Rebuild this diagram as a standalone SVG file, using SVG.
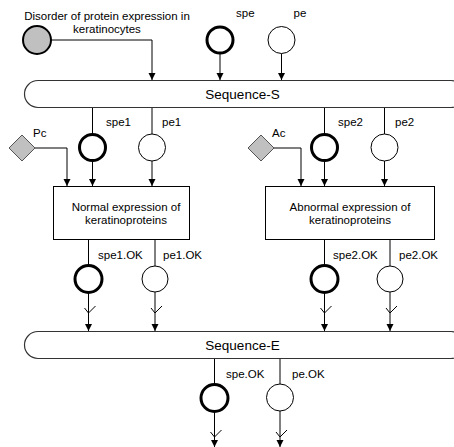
<svg xmlns="http://www.w3.org/2000/svg" width="454" height="447" viewBox="0 0 454 447">
<style>
text{font-family:"Liberation Sans",Arial,sans-serif;font-size:11.5px;fill:#000}
.seq{font-size:13.5px}
.c{text-anchor:middle}
.thin{fill:#fff;stroke:#000;stroke-width:1}
.thick{fill:#fff;stroke:#000;stroke-width:3}
.grey{fill:#c0c0c0;stroke:#000;stroke-width:2}
.dia{fill:#c0c0c0;stroke:#555;stroke-width:1}
.box{fill:#fff;stroke:#000;stroke-width:1}
.bar{fill:#fff;stroke:#333;stroke-width:1.2}
.ln{fill:none;stroke:#000;stroke-width:1}
.arr{marker-end:url(#ah)}
</style>
<defs>
<marker id="ah" markerUnits="userSpaceOnUse" markerWidth="8" markerHeight="8" viewBox="0 0 8 8" refX="7" refY="4" orient="auto">
<path d="M0,0.5 L7,4 L0,7.5 Z" fill="#000"/>
</marker>
<path id="chk" d="M-4,-5 L0,0 L7,-7" fill="none" stroke="#000" stroke-width="1"/>
</defs>

<g id="connectors">
<path class="ln arr" d="M51,40 H152 V80"/>
<path class="ln arr" d="M220,53 V80"/>
<path class="ln arr" d="M281.5,53.5 V80"/>
<path class="ln" d="M92.5,107.5 V134.5"/>
<path class="ln arr" d="M92.5,160.5 V186"/>
<path class="ln" d="M152,107.5 V134"/>
<path class="ln arr" d="M152,161 V186"/>
<path class="ln arr" d="M35,148 H67 V186"/>
<path class="ln" d="M324.5,107.5 V134.5"/>
<path class="ln arr" d="M324.5,160.5 V186"/>
<path class="ln" d="M384.5,107.5 V134"/>
<path class="ln arr" d="M384.5,161 V186"/>
<path class="ln arr" d="M274,148 H301 V186"/>
<path class="ln" d="M88.5,239.5 V265.5"/>
<path class="ln arr" d="M88.5,292.5 V331"/>
<path class="ln" d="M155,239.5 V266"/>
<path class="ln arr" d="M155,292 V331"/>
<path class="ln" d="M324.5,239.5 V265.5"/>
<path class="ln arr" d="M324.5,292.5 V331"/>
<path class="ln" d="M390,239.5 V266"/>
<path class="ln arr" d="M390,292 V331"/>
<path class="ln" d="M214.5,358.5 V384"/>
<path class="ln arr" d="M214.5,412 V447"/>
<path class="ln" d="M280,358.5 V384"/>
<path class="ln arr" d="M280,411 V447"/>
<use href="#chk" x="88.5" y="313"/>
<use href="#chk" x="155" y="313"/>
<use href="#chk" x="324.5" y="313"/>
<use href="#chk" x="390" y="313"/>
<use href="#chk" x="214.5" y="437"/>
<use href="#chk" x="280" y="437"/>
</g>

<g id="disorder">
<circle class="grey" cx="37" cy="40" r="14"/>
<text class="c" x="107" y="19.5">Disorder of protein expression in</text>
<text class="c" x="107" y="33">keratinocytes</text>
</g>
<g id="spe">
<circle class="thick" cx="220" cy="40" r="13"/>
<text x="236" y="17">spe</text>
</g>
<g id="pe">
<circle class="thin" cx="281.5" cy="40" r="13.5"/>
<text x="293.5" y="17">pe</text>
</g>

<g id="sequence-s">
<rect class="bar" x="24.5" y="80.5" width="440" height="27" rx="13.5"/>
<text class="seq c" x="242.5" y="98.5">Sequence-S</text>
</g>

<g id="spe1">
<circle class="thick" cx="92.5" cy="147.5" r="13"/>
<text x="106" y="126">spe1</text>
</g>
<g id="pe1">
<circle class="thin" cx="152" cy="147.5" r="13.5"/>
<text x="162" y="126">pe1</text>
</g>
<g id="pc">
<polygon class="dia" points="22,135 35,148 22,161 9,148"/>
<text x="33" y="137">Pc</text>
</g>
<g id="normal">
<rect class="box" x="53.5" y="186.5" width="136" height="53"/>
<text class="c" x="126" y="210.5">Normal expression of</text>
<text class="c" x="126" y="224">keratinoproteins</text>
</g>

<g id="spe2">
<circle class="thick" cx="324.5" cy="147.5" r="13"/>
<text x="338" y="126">spe2</text>
</g>
<g id="pe2">
<circle class="thin" cx="384.5" cy="147.5" r="13.5"/>
<text x="395" y="126">pe2</text>
</g>
<g id="ac">
<polygon class="dia" points="261,135 274,148 261,161 248,148"/>
<text x="272" y="137">Ac</text>
</g>
<g id="abnormal">
<rect class="box" x="265.5" y="186.5" width="169" height="53"/>
<text class="c" x="350" y="210.5">Abnormal expression of</text>
<text class="c" x="350" y="224">keratinoproteins</text>
</g>

<g id="spe1ok">
<circle class="thick" cx="88.5" cy="279" r="13.5"/>
<text x="98" y="259">spe1.OK</text>
</g>
<g id="pe1ok">
<circle class="thin" cx="155" cy="279" r="13"/>
<text x="163" y="259">pe1.OK</text>
</g>
<g id="spe2ok">
<circle class="thick" cx="324.5" cy="279" r="13.5"/>
<text x="333" y="259">spe2.OK</text>
</g>
<g id="pe2ok">
<circle class="thin" cx="390" cy="279" r="13"/>
<text x="399" y="259">pe2.OK</text>
</g>

<g id="sequence-e">
<rect class="bar" x="24.5" y="331.5" width="440" height="27" rx="13.5"/>
<text class="seq c" x="242.5" y="349.5">Sequence-E</text>
</g>

<g id="speok">
<circle class="thick" cx="214.5" cy="398" r="13.5"/>
<text x="226" y="378">spe.OK</text>
</g>
<g id="peok">
<circle class="thin" cx="280" cy="397.5" r="13.5"/>
<text x="292" y="378">pe.OK</text>
</g>
</svg>
